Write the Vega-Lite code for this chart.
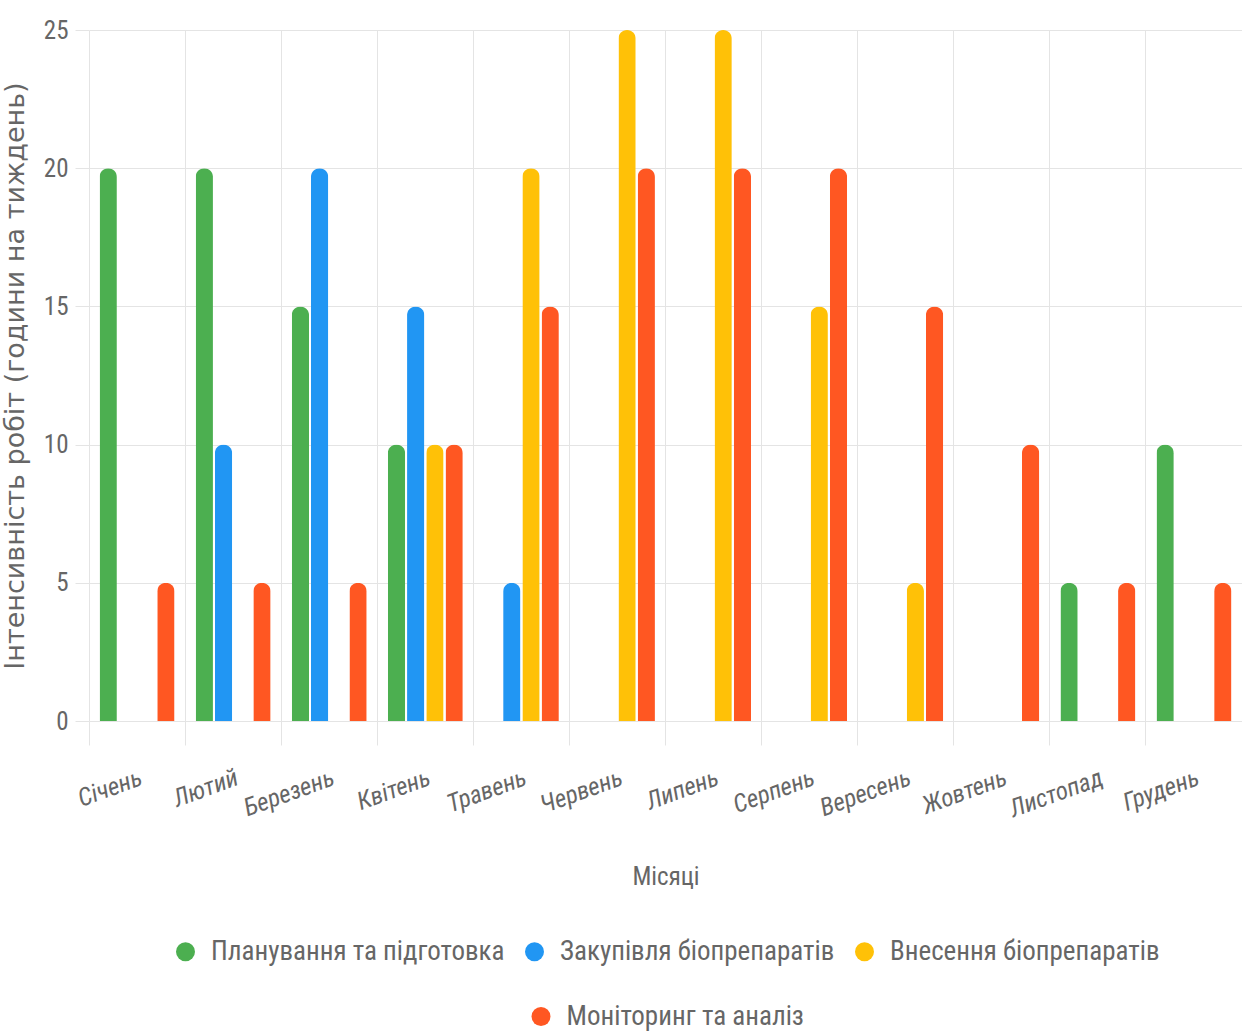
{
  "$schema": "https://vega.github.io/schema/vega-lite/v6.json",
  "width": 1153,
  "height": 691,
  "autosize": {"type": "none"},
  "padding": {"left": 89, "top": 30, "right": 0, "bottom": 313},
  "background": "white",
  "data": {
    "values": [
      {"month": "Січень", "series": "Планування та підготовка", "hours": 20},
      {"month": "Січень", "series": "Моніторинг та аналіз", "hours": 5},
      {"month": "Лютий", "series": "Планування та підготовка", "hours": 20},
      {"month": "Лютий", "series": "Закупівля біопрепаратів", "hours": 10},
      {"month": "Лютий", "series": "Моніторинг та аналіз", "hours": 5},
      {"month": "Березень", "series": "Планування та підготовка", "hours": 15},
      {"month": "Березень", "series": "Закупівля біопрепаратів", "hours": 20},
      {"month": "Березень", "series": "Моніторинг та аналіз", "hours": 5},
      {"month": "Квітень", "series": "Планування та підготовка", "hours": 10},
      {"month": "Квітень", "series": "Закупівля біопрепаратів", "hours": 15},
      {"month": "Квітень", "series": "Внесення біопрепаратів", "hours": 10},
      {"month": "Квітень", "series": "Моніторинг та аналіз", "hours": 10},
      {"month": "Травень", "series": "Закупівля біопрепаратів", "hours": 5},
      {"month": "Травень", "series": "Внесення біопрепаратів", "hours": 20},
      {"month": "Травень", "series": "Моніторинг та аналіз", "hours": 15},
      {"month": "Червень", "series": "Внесення біопрепаратів", "hours": 25},
      {"month": "Червень", "series": "Моніторинг та аналіз", "hours": 20},
      {"month": "Липень", "series": "Внесення біопрепаратів", "hours": 25},
      {"month": "Липень", "series": "Моніторинг та аналіз", "hours": 20},
      {"month": "Серпень", "series": "Внесення біопрепаратів", "hours": 15},
      {"month": "Серпень", "series": "Моніторинг та аналіз", "hours": 20},
      {"month": "Вересень", "series": "Внесення біопрепаратів", "hours": 5},
      {"month": "Вересень", "series": "Моніторинг та аналіз", "hours": 15},
      {"month": "Жовтень", "series": "Моніторинг та аналіз", "hours": 10},
      {"month": "Листопад", "series": "Планування та підготовка", "hours": 5},
      {"month": "Листопад", "series": "Моніторинг та аналіз", "hours": 5},
      {"month": "Грудень", "series": "Планування та підготовка", "hours": 10},
      {"month": "Грудень", "series": "Моніторинг та аналіз", "hours": 5}
    ]
  },
  "encoding": {
    "x": {
      "field": "month",
      "type": "nominal",
      "sort": ["Січень", "Лютий", "Березень", "Квітень", "Травень", "Червень", "Липень", "Серпень", "Вересень", "Жовтень", "Листопад", "Грудень"],
      "scale": {"paddingInner": 0, "paddingOuter": 0},
      "axis": {
        "title": "Місяці",
        "bandPosition": 0,
        "grid": true,
        "domain": false,
        "tickSize": 24,
        "labelAngle": -20,
        "labelAlign": "right",
        "labelBaseline": "top",
        "labelPadding": 20,
        "labelFontSize": 25,
        "labelFontStyle": "italic",
        "titleFontSize": 25,
        "titlePadding": 43
      }
    },
    "xOffset": {
      "field": "series",
      "type": "nominal",
      "scale": {
        "domain": ["Планування та підготовка", "Закупівля біопрепаратів", "Внесення біопрепаратів", "Моніторинг та аналіз"],
        "paddingInner": 0.1,
        "paddingOuter": 0.55
      }
    },
    "y": {
      "field": "hours",
      "type": "quantitative",
      "scale": {"domain": [0, 25], "nice": false},
      "axis": {
        "title": "Інтенсивність робіт (години на тиждень)",
        "values": [0, 5, 10, 15, 20, 25],
        "domain": false,
        "tickSize": 14,
        "labelPadding": 7,
        "labelFontSize": 25,
        "titleFont": "DejaVu Sans",
        "titleFontSize": 27,
        "titlePadding": 14
      }
    }
  },
  "layer": [
    {
      "transform": [{"filter": "datum.series !== 'Моніторинг та аналіз'"}],
      "mark": {"type": "bar", "cornerRadiusTopLeft": 9, "cornerRadiusTopRight": 9},
      "encoding": {
        "color": {
          "field": "series",
          "type": "nominal",
          "scale": {
            "domain": ["Планування та підготовка", "Закупівля біопрепаратів", "Внесення біопрепаратів"],
            "range": ["#4CAF50", "#2196F3", "#FFC107"]
          },
          "legend": {"title": null}
        }
      }
    },
    {
      "transform": [{"filter": "datum.series === 'Моніторинг та аналіз'"}],
      "mark": {"type": "bar", "cornerRadiusTopLeft": 9, "cornerRadiusTopRight": 9},
      "encoding": {
        "color": {
          "field": "series",
          "type": "nominal",
          "scale": {"domain": ["Моніторинг та аналіз"], "range": ["#FF5722"]},
          "legend": {"title": null}
        }
      }
    }
  ],
  "resolve": {"scale": {"color": "independent"}},
  "config": {
    "font": "Liberation Sans Narrow, Roboto Condensed, DejaVu Sans Condensed, sans-serif",
    "view": {"stroke": null},
    "axis": {
      "gridColor": "#e4e4e4",
      "tickColor": "#e4e4e4",
      "labelColor": "#666666",
      "titleColor": "#666666",
      "titleFontWeight": "normal",
      "labelFont": "Liberation Sans Narrow, Roboto Condensed, DejaVu Sans Condensed, sans-serif",
      "titleFont": "Liberation Sans Narrow, Roboto Condensed, DejaVu Sans Condensed, sans-serif"
    },
    "legend": {
      "orient": "bottom",
      "direction": "horizontal",
      "symbolType": "circle",
      "symbolSize": 360,
      "symbolStrokeWidth": 0,
      "labelFontSize": 27,
      "labelColor": "#666666",
      "labelLimit": 400,
      "labelOffset": 12,
      "columnPadding": 16,
      "offset": 48,
      "layout": {
        "bottom": {"anchor": "middle", "direction": "vertical", "center": true, "margin": 38}
      }
    }
  }
}
